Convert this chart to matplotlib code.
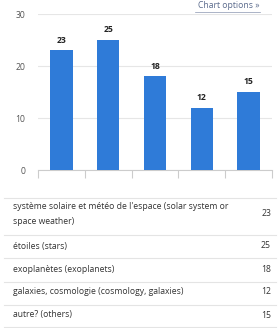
import matplotlib.pyplot as plt
from matplotlib.lines import Line2D

plt.rcParams['font.family'] = ['Open Sans', 'DejaVu Sans']

# data
categories = [
    "système solaire et météo de l'espace (solar system or\nspace weather)",
    "étoiles (stars)",
    "exoplanètes (exoplanets)",
    "galaxies, cosmologie (cosmology, galaxies)",
    "autre? (others)",
]
counts = [23, 25, 18, 12, 15]
yticks = [0, 10, 20, 30]

W, H = 278, 328
fig = plt.figure(figsize=(W / 100, H / 100), dpi=100)
fig.patch.set_facecolor('white')


def fx(px):
    return px / W


def fy(py):
    return 1 - py / H


# bar chart area
ax = fig.add_axes([fx(38), fy(170), fx(272) - fx(38), fy(14) - fy(170)])
x = list(range(len(counts)))
ax.bar(x, counts, width=0.48, color='#2f7bd8', zorder=3)
for xi, v in zip(x, counts):
    ax.text(xi, v + 1.1, str(v), ha='center', va='bottom', fontsize=6.2,
            fontweight='bold', color='#222222')
ax.set_xlim(-0.5, len(counts) - 0.5)
ax.set_ylim(0, 30)
ax.set_yticks(yticks)
ax.set_yticklabels([str(t) for t in yticks])
ax.yaxis.grid(True, color='#e6e6e6', linewidth=0.8, zorder=0)
ax.tick_params(axis='y', length=0, labelsize=6.2, labelcolor='#555555', pad=9)
ax.set_xticks([i - 0.5 for i in range(len(counts) + 1)])
ax.set_xticklabels([])
ax.tick_params(axis='x', length=5.5, color='#cccccc', width=0.8)
for s in ['top', 'right', 'left']:
    ax.spines[s].set_visible(False)
ax.spines['bottom'].set_color('#cccccc')
ax.spines['bottom'].set_linewidth(0.8)
ax.set_facecolor('none')

# link in the top right
fig.text(fx(260), fy(5.5), 'Chart options »', ha='right', va='center',
         fontsize=6.2, color='#5a6a8c')
fig.add_artist(Line2D([fx(195), fx(260)], [fy(11.5), fy(11.5)],
                      color='#8a96b0', linewidth=0.5))

# table below
line_ys = [198, 235, 258, 282, 305, 327]
text_ys = [214, 246, 269, 292, 315]
for ly in line_ys:
    fig.add_artist(Line2D([fx(4), fx(276)], [fy(ly), fy(ly)],
                          color='#e4e4e4', linewidth=0.8))
for label, v, ty in zip(categories, counts, text_ys):
    fig.text(fx(13), fy(ty), label, ha='left', va='center', fontsize=6.2,
             color='#333333', linespacing=1.75)
    fig.text(fx(271), fy(ty), str(v), ha='right', va='center', fontsize=6.2,
             color='#333333')

fig.savefig('out.png', dpi=100)
